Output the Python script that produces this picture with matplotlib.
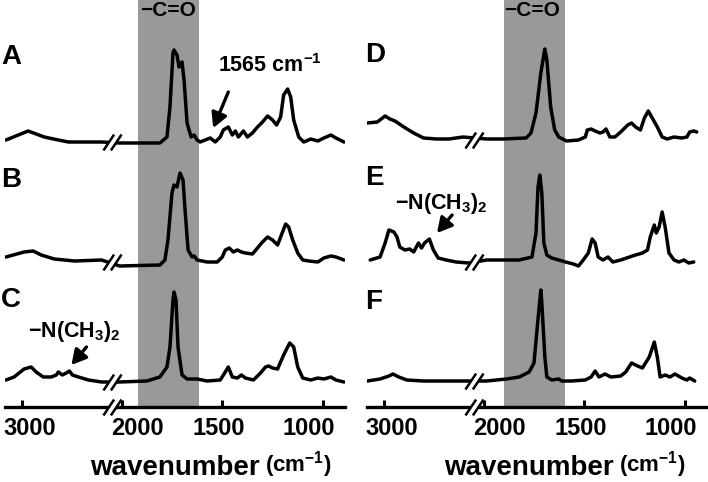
import numpy as np
import matplotlib
matplotlib.use('Agg')
import matplotlib.pyplot as plt
import matplotlib.transforms as mtransforms
from matplotlib.path import Path

plt.rcParams['font.family'] = ['Liberation Sans', 'DejaVu Sans']
plt.rcParams['font.weight'] = 'bold'
plt.rcParams['mathtext.fontset'] = 'custom'
plt.rcParams['mathtext.rm'] = 'Liberation Sans:bold'
plt.rcParams['mathtext.it'] = 'Liberation Sans:bold'
plt.rcParams['mathtext.bf'] = 'Liberation Sans:bold'
plt.rcParams['mathtext.sf'] = 'Liberation Sans:bold'

#=======================================================
# Data (intensity in a.u.)
#=======================================================

wn_A = [3080, 2970, 2890, 2820, 2770, 2605, 2010, 1810, 1775, 1760, 1745, 1740, 1725,
        1715, 1700, 1690, 1675, 1655, 1640, 1625, 1610, 1585, 1560, 1535, 1510, 1495,
        1470, 1450, 1435, 1420, 1395, 1375, 1350, 1325, 1300, 1275, 1250, 1230, 1210,
        1195, 1175, 1160, 1145, 1120, 1095, 1060, 1025, 995, 960, 935, 895]
ab_A = [2, 11, 5, 2, 0, 0, -1, -1, 5, 35, 89, 92, 87,
        75, 80, 62, 19, 5, 7, 2, 0, 2, 4, 0, 5, 12,
        15, 7, 11, 5, 11, 5, 9, 15, 20, 26, 22, 17, 25,
        47, 53, 45, 22, 5, 0, 3, 1, 4, 7, 4, 0]

wn_B = [3080, 2990, 2945, 2905, 2840, 2740, 2605, 2010, 1810, 1785, 1770, 1750, 1740,
        1725, 1710, 1695, 1685, 1670, 1650, 1640, 1625, 1575, 1525, 1500, 1485, 1465,
        1445, 1425, 1405, 1385, 1350, 1325, 1300, 1275, 1250, 1225, 1210, 1185, 1170,
        1150, 1125, 1100, 1070, 1025, 995, 960, 935, 895]
ab_B = [5, 10, 11, 7, 3, 1, 2, -4, -3, 2, 22, 69, 77,
        75, 89, 82, 52, 12, 5, 6, 2, 0, 0, 5, 12, 14,
        10, 12, 10, 9, 8, 14, 20, 25, 22, 17, 25, 38, 35,
        22, 9, 2, 1, 0, 4, 6, 5, 2]

wn_C = [3080, 3040, 2990, 2955, 2930, 2895, 2855, 2830, 2820, 2800, 2780, 2765, 2750,
        2720, 2670, 2605, 2010, 1875, 1810, 1775, 1760, 1745, 1740, 1730, 1720, 1700,
        1675, 1625, 1575, 1510, 1485, 1470, 1450, 1425, 1405, 1385, 1345, 1310, 1285,
        1270, 1250, 1225, 1195, 1165, 1145, 1125, 1100, 1060, 1025, 995, 960, 935, 895]
ab_C = [2, 5, 13, 15, 10, 5, 5, 7, 10, 7, 9, 11, 7,
        5, 2, 0, 0, 1, 5, 15, 35, 82, 90, 82, 35, 7,
        3, 3, 1, 2, 10, 15, 5, 4, 7, 4, 2, 9, 15,
        16, 14, 13, 27, 39, 35, 15, 4, 2, 4, 3, 5, 2, 0]

wn_D = [3083, 3034, 2995, 2971, 2946, 2902, 2853, 2804, 2740, 2677, 2608, 1985, 1907,
        1789, 1765, 1740, 1716, 1696, 1686, 1667, 1647, 1627, 1588, 1529, 1495, 1485,
        1466, 1446, 1422, 1407, 1392, 1373, 1348, 1319, 1284, 1265, 1245, 1221, 1201,
        1182, 1162, 1137, 1113, 1088, 1054, 1015, 990, 976, 956, 941]
ab_D = [17, 18, 24, 21, 19, 13, 7, 2, 1, 1, 3, 1, 1,
        2, 7, 27, 67, 91, 80, 33, 10, 3, -1, 0, 3, 10,
        11, 9, 7, 8, 11, 3, 3, 8, 15, 17, 13, 10, 22,
        29, 22, 13, 3, 1, 3, 2, 3, 8, 9, 8]

wn_E = [3069, 3020, 2995, 2976, 2951, 2936, 2922, 2897, 2873, 2853, 2829, 2814, 2799,
        2775, 2755, 2731, 2691, 2642, 2579, 1985, 1907, 1823, 1760, 1740, 1730, 1721,
        1711, 1701, 1686, 1662, 1627, 1593, 1554, 1529, 1505, 1480, 1461, 1446, 1431,
        1407, 1382, 1358, 1319, 1275, 1245, 1211, 1186, 1172, 1152, 1142, 1128, 1113,
        1098, 1079, 1054, 1030, 1005, 981, 956]
ab_E = [2, 5, 19, 32, 30, 25, 15, 12, 13, 10, 19, 14, 19,
        23, 12, 4, 2, 0, -1, 2, 2, 2, 5, 29, 75, 87,
        69, 19, 7, 4, 2, 0, -2, -4, 2, 9, 23, 19, 5,
        2, 5, 0, 2, 5, 7, 9, 12, 25, 37, 29, 35, 50,
        35, 9, 2, 0, 2, -1, 0]

wn_F = [3083, 3020, 2976, 2956, 2927, 2887, 2804, 2642, 1985, 1887, 1823, 1774, 1750,
        1735, 1716, 1711, 1696, 1686, 1662, 1627, 1613, 1564, 1495, 1466, 1446, 1427,
        1397, 1368, 1319, 1294, 1265, 1235, 1211, 1177, 1152, 1137, 1123, 1098, 1074,
        1049, 1015, 990, 976, 951]
ab_F = [0, 2, 5, 7, 4, 1, 0, 0, 0, 2, 4, 9, 18,
        51, 91, 78, 24, 4, 1, 2, 0, 0, 1, 4, 10, 4,
        7, 4, 5, 9, 18, 15, 13, 24, 39, 24, 4, 6, 4,
        7, 3, 1, 3, 0]

tick_vals = [3000, 2000, 1500, 1000]
tick_text = ['3000', '2000', '1500', '1000']

#=======================================================
# Broken wavenumber axis (2560 -> 2045 squeezed out)
#=======================================================

GAP_HI, GAP_LO, G = 2560.0, 2045.0, 10.0

def fwd(x):
    x = np.asarray(x, float)
    return np.where(x >= GAP_HI, x - (GAP_HI - GAP_LO) + G,
                    np.where(x <= GAP_LO, x, GAP_LO + (x - GAP_LO) * G / (GAP_HI - GAP_LO)))

def inv(y):
    y = np.asarray(y, float)
    return np.where(y >= GAP_LO + G, y + (GAP_HI - GAP_LO) - G,
                    np.where(y <= GAP_LO, y, GAP_LO + (y - GAP_LO) * (GAP_HI - GAP_LO) / G))

W, H = 708, 482

def fp(x, y):
    # pixel position -> figure fraction
    return x / W, 1 - y / H

fig = plt.figure(figsize=(W / 100, H / 100), dpi=100)

ax_l = fig.add_axes([5 / W, 1 - 407 / H, 340 / W, 407 / H])
ax_r = fig.add_axes([367 / W, 1 - 407 / H, 340 / W, 407 / H])

panels = [
    (ax_l, [(wn_A, ab_A), (wn_B, ab_B), (wn_C, ab_C)], [265, 145, 25], (1920, 1615)),
    (ax_r, [(wn_D, ab_D), (wn_E, ab_E), (wn_F, ab_F)], [267, 145, 26], (1900, 1595)),
]

# break marker "//" and the white gap between the two slashes
slash = Path([(-8.5, -7.5), (1.5, 7.5), (-1.5, -7.5), (8.5, 7.5)],
             [Path.MOVETO, Path.LINETO, Path.MOVETO, Path.LINETO])
gap = Path([(-8.5, -7.5), (-1.5, -7.5), (8.5, 7.5), (1.5, 7.5), (-8.5, -7.5)],
           [Path.MOVETO, Path.LINETO, Path.LINETO, Path.LINETO, Path.CLOSEPOLY])

for ax, spectra, offs, band in panels:
    ax.set_xscale('function', functions=(fwd, inv))
    ax.set_xlim(3085, 890)
    ax.set_ylim(0, 407)
    ax.axvspan(band[0], band[1], color='#999999', lw=0, zorder=0)

    for (wn, ab), off in zip(spectra, offs):
        ax.plot(wn, np.array(ab) + off, color='k', lw=2.5,
                solid_joinstyle='round', solid_capstyle='round', zorder=3)

    bx = [2300] * 4
    by = offs + [0]
    ax.plot(bx, by, ls='none', marker=gap, ms=13, mfc='white', mec='white',
            mew=0.5, zorder=5, clip_on=False)
    ax.plot(bx, by, ls='none', marker=slash, ms=13, mfc='none', mec='k',
            mew=1.8, zorder=6, clip_on=False)

    for s in ['left', 'right', 'top']:
        ax.spines[s].set_visible(False)
    ax.spines['bottom'].set_linewidth(2.4)
    ax.set_yticks([])
    ax.xaxis.set_minor_locator(matplotlib.ticker.NullLocator())
    ax.set_xticks(tick_vals)
    ax.set_xticklabels(tick_text, fontsize=17, fontweight='bold')
    ax.tick_params(axis='x', direction='in', length=5, width=2.2, pad=7)
    for lab, dx in zip(ax.get_xticklabels(), [8, 16, -4, -14]):
        lab.set_transform(lab.get_transform() +
                          mtransforms.ScaledTranslation(dx / 100, 0, fig.dpi_scale_trans))
    ax.patch.set_visible(False)

# panel letters
for letter, (x, y) in zip('ABCDEF', [(1, 57), (1, 180), (1, 300),
                                      (365, 55), (365, 178), (365, 302)]):
    fig.text(*fp(x, y), letter, fontsize=20, fontweight='bold', ha='left', va='center')

# carbonyl band labels
for x in [168, 532]:
    fig.text(*fp(x, 11), '\u2212C=O', fontsize=15, fontweight='bold',
             ha='center', va='center')

# axis titles
for xw, xc in [(90, 265), (444, 619)]:
    fig.text(*fp(xw, 481), 'wavenumber', fontsize=20, fontweight='bold',
             ha='left', va='bottom')
    fig.text(*fp(xc, 480), '(cm$^{\u22121}$)', fontsize=16, fontweight='bold',
             ha='left', va='bottom')

# annotations
arrow = dict(arrowstyle='-|>,head_length=0.55,head_width=0.3', lw=2.4, color='k',
             mutation_scale=16, shrinkA=0, shrinkB=0)

fig.text(*fp(218, 66), '1565 cm$^{\u22121}$', fontsize=15.5, fontweight='bold',
         ha='left', va='center')
ax_l.annotate('', xy=(1545, 279), xytext=(1470, 315), arrowprops=arrow)

fig.text(*fp(28, 332), '\u2212N(CH$_3$)$_2$', fontsize=15.5, fontweight='bold',
         ha='left', va='center')
ax_l.annotate('', xy=(2755, 42), xytext=(2680, 60), arrowprops=arrow)

fig.text(*fp(395, 203), '\u2212N(CH$_3$)$_2$', fontsize=15.5, fontweight='bold',
         ha='left', va='center')
ax_r.annotate('', xy=(2737, 174), xytext=(2662, 192), arrowprops=arrow)

fig.savefig('out.png', dpi=100)
